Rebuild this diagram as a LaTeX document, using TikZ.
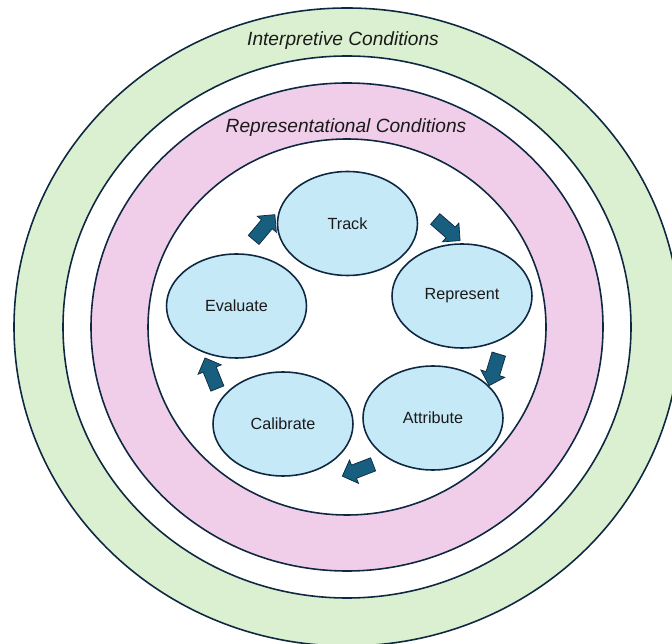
\documentclass[tikz,border=0pt]{standalone}
\usepackage{fontspec}
\setmainfont{Liberation Sans}
\usetikzlibrary{shapes.geometric, shapes.arrows}
\definecolor{ringline}{RGB}{14, 40, 65}
\definecolor{ringgreen}{RGB}{218, 240, 208}
\definecolor{ringpink}{RGB}{240, 206, 234}
\definecolor{stagefill}{RGB}{198, 233, 248}
\definecolor{flowblue}{RGB}{24, 94, 126}
\definecolor{labeltext}{RGB}{26, 26, 26}

\begin{document}
\begin{tikzpicture}[x=0.02cm, y=-0.02cm,
    ring/.style={draw=ringline, line width=0.9pt},
    stage/.style={ellipse, draw=ringline, line width=0.9pt, fill=stagefill,
                  minimum width=2.8cm, minimum height=2.08cm, inner sep=0pt,
                  text=labeltext, font=\fontsize{9.2}{11}\selectfont},
    flow/.style={single arrow, draw=ringline, line width=0.4pt, fill=flowblue,
                 minimum height=0.66cm, minimum width=0.48cm, inner sep=0pt,
                 inner ysep=3.8pt, single arrow head extend=0.11cm},
    ringlabel/.style={text=labeltext, font=\fontsize{10.9}{13}\selectfont\itshape}]
    \clip (0,0) rectangle (672,644);
    \coordinate (c) at (347,327);

    % rings
    \draw[ring, fill=ringgreen] (c) ellipse [x radius=333, y radius=319];
    \draw[ring, fill=white] (c) ellipse [x radius=284, y radius=271];
    \draw[ring, fill=ringpink] (c) ellipse [x radius=256, y radius=244];
    \draw[ring, fill=white] (c) ellipse [x radius=199, y radius=188];

    \node[ringlabel] (interp) at (343,41) {Interpretive Conditions};
    \node[ringlabel] (repres) at (346,128) {Representational Conditions};

    % cycle
    \node[stage] (track) at (347.5,223.5) {Track};
    \node[stage] (represent) at (462,296) {Represent};
    \node[stage] (attribute) at (433,418) {Attribute};
    \node[stage] (calibrate) at (283,424) {Calibrate};
    \node[stage] (evaluate) at (236.5,306) {Evaluate};

    \node[flow, rotate=-41] (trackrep) at (445,227.5) {};
    \node[flow, rotate=-107] (repattr) at (495,366.5) {};
    \node[flow, rotate=-159] (attrcal) at (361,469) {};
    \node[flow, rotate=112] (caleval) at (212.5,376.5) {};
    \node[flow, rotate=50] (evaltrack) at (262,230) {};
\end{tikzpicture}
\end{document}
